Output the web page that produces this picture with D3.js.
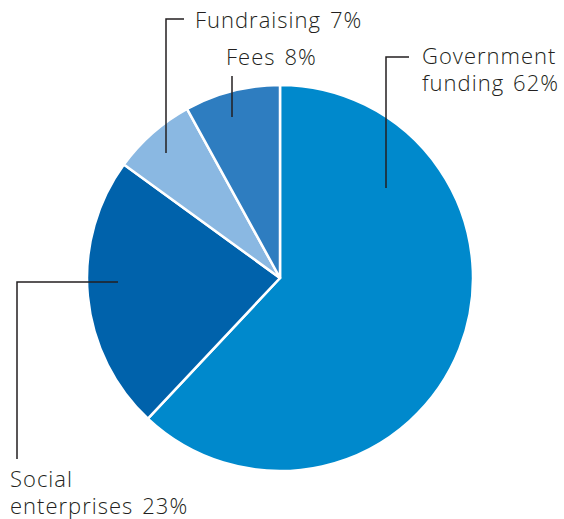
<!DOCTYPE html>
<html>
<head>
<meta charset="utf-8">
<script src="https://cdn.jsdelivr.net/npm/d3@7"></script>
<style>
  html, body { margin: 0; padding: 0; background: #fff; }
  svg { display: block; }
  .lbl { font-family: "Open Sans", sans-serif; font-weight: 300; font-size: 22px; letter-spacing: 1px; fill: #231f20; }
</style>
</head>
<body>
<svg id="chart" width="564" height="519"></svg>
<script>
// Income sources, in percent (clockwise from 12 o'clock)
const categories = ["Government funding", "Social enterprises", "Fundraising", "Fees"];
const shares = [62, 23, 7, 8];
const colors = ["#0089cc", "#0062ab", "#8ab8e2", "#2e7dc0"];
// Label name lines (name split where the label wraps); the share follows the last line
const labelLines = [
  ["Government", "funding"],
  ["Social", "enterprises"],
  ["Fundraising"],
  ["Fees"]
];

// Leader-line and label layout: elbow line points and text anchor
const labelLayout = [
  { line: [[386, 188], [386, 57], [409, 57]], text: [422, 64] },
  { line: [[118, 282], [17, 282], [17, 459]], text: [10, 487] },
  { line: [[166, 153], [166, 19], [184, 19]], text: [195, 28] },
  { line: [[232, 117], [232, 76]], text: [226, 65] }
];
const lineHeight = 26.5;

const svg = d3.select("#chart");
const cx = 280, cy = 278, radius = 193;

const pie = d3.pie().sort(null).value(d => d)(shares);
const arc = d3.arc().innerRadius(0).outerRadius(radius);

const g = svg.append("g").attr("transform", `translate(${cx},${cy})`);
g.selectAll("path.slice")
  .data(pie)
  .join("path")
  .attr("class", "slice")
  .attr("d", arc)
  .attr("fill", (d, i) => colors[i])
  .attr("stroke", "#fff")
  .attr("stroke-width", 2.5)
  .attr("stroke-linejoin", "round");

const line = d3.line();
svg.selectAll("path.leader")
  .data(labelLayout)
  .join("path")
  .attr("class", "leader")
  .attr("d", d => line(d.line))
  .attr("fill", "none")
  .attr("stroke", "#231f20")
  .attr("stroke-width", 1.5);

// One text element per label line; the percentage sits on the last line
const rows = [];
labelLayout.forEach((d, i) => {
  const n = labelLines[i].length;
  labelLines[i].forEach((t, j) => {
    rows.push({ x: d.text[0], y: d.text[1] + j * lineHeight, name: t, pct: j === n - 1 ? shares[i] + "%" : null });
  });
});

const texts = svg.selectAll("text.lbl")
  .data(rows)
  .join("text")
  .attr("class", "lbl")
  .attr("x", d => d.x)
  .attr("y", d => d.y);

texts.append("tspan").text(d => d.name);
texts.filter(d => d.pct)
  .append("tspan")
  .attr("dx", 9)
  .text(d => d.pct);
</script>
</body>
</html>
